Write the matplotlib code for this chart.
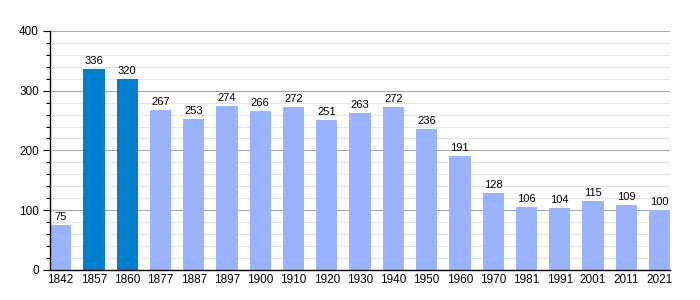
import numpy as np
import matplotlib
matplotlib.use("Agg")
import matplotlib.pyplot as plt

years = ["1842", "1857", "1860", "1877", "1887", "1897", "1900", "1910", "1920",
         "1930", "1940", "1950", "1960", "1970", "1981", "1991", "2001", "2011", "2021"]
population = [75, 336, 320, 267, 253, 274, 266, 272, 251, 263, 272, 236, 191,
              128, 106, 104, 115, 109, 100]
highlighted = ["1857", "1860"]

light = "#99b3ff"
dark = "#0080cc"

fig = plt.figure(figsize=(7, 3), dpi=100)
ax = fig.add_axes([0.0714, 0.1, 0.886, 0.797])

x = np.arange(len(years))
colors = [dark if y in highlighted else light for y in years]
bw = 0.64
ax.bar(x, population, width=bw, color=colors, zorder=3)

for xi, v in zip(x, population):
    ax.text(xi, v + 5, str(v), ha="center", va="bottom", fontsize=8,
            family="Liberation Sans", zorder=4)

# grille
for g in range(20, 401, 20):
    if g % 100 == 0:
        ax.axhline(g, color="#aaaaaa", lw=0.8, zorder=1)
    else:
        ax.axhline(g, color="#e4e4e4", lw=0.8, zorder=1)

ax.set_xlim(-bw / 2, len(years) - 1 + bw / 2)
ax.set_ylim(0, 400)
ax.set_xticks(x)
ax.set_xticklabels(years, family="Liberation Sans", fontsize=8.5)
ax.set_yticks(range(0, 401, 100))
ax.set_yticklabels([str(t) for t in range(0, 401, 100)], family="Liberation Sans", fontsize=8.5)
ax.set_yticks(range(0, 401, 20), minor=True)
ax.tick_params(axis="x", length=0, pad=3)
ax.tick_params(axis="y", which="major", length=5, width=0.8, pad=3)
ax.tick_params(axis="y", which="minor", length=3, width=0.8)

for s in ["top", "right"]:
    ax.spines[s].set_visible(False)
ax.spines["left"].set_linewidth(1)
ax.spines["bottom"].set_linewidth(1)
ax.spines["left"].set_zorder(5)
ax.spines["bottom"].set_zorder(5)

fig.savefig("out.png", dpi=100)
